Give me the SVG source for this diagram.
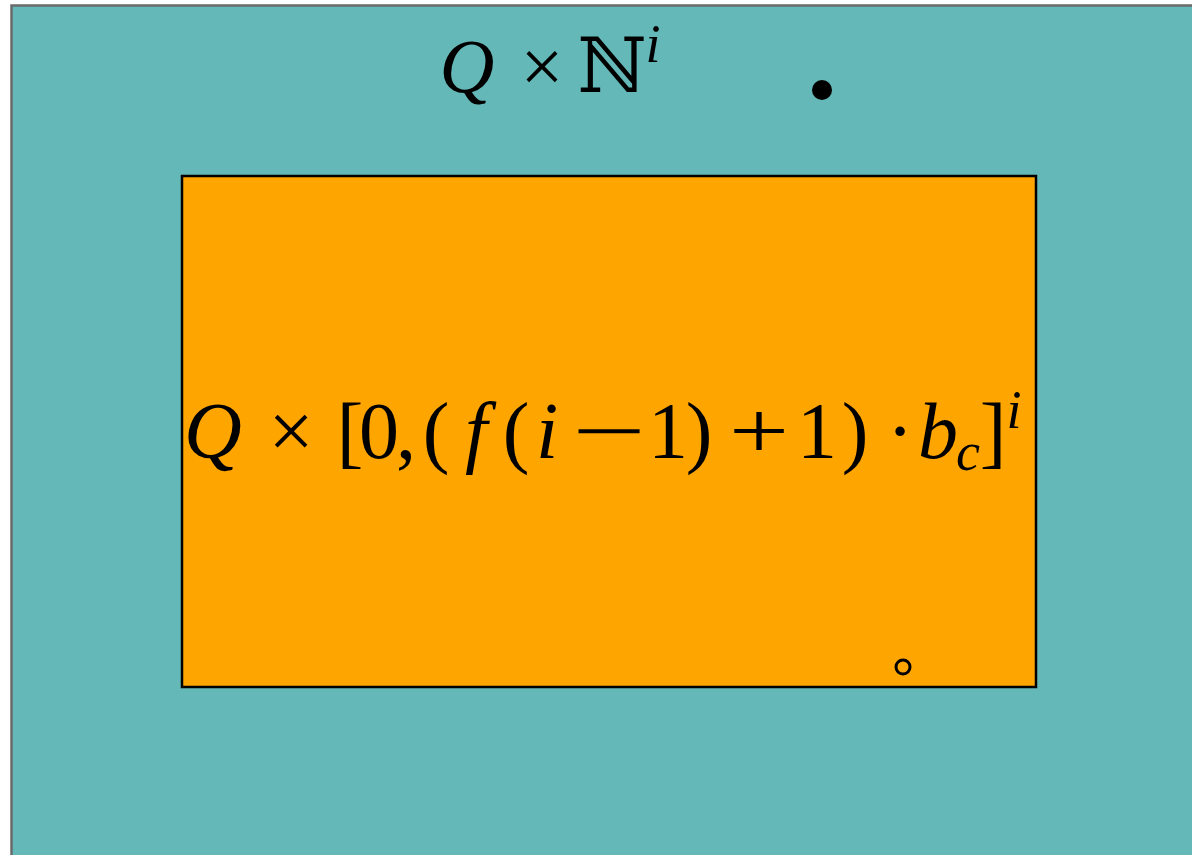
<svg xmlns="http://www.w3.org/2000/svg" width="1192" height="855" viewBox="0 0 1192 855">
<style>
.m{font-family:"Liberation Serif","DejaVu Serif",serif;fill:#000;text-anchor:middle}
.it{font-style:italic}
.big{font-size:80px}
.top{font-size:76px}
.sm{font-size:54px}
</style>
<rect width="1192" height="855" fill="#ffffff"/>
<g id="outer">
<rect x="11.5" y="5.5" width="1190" height="860" fill="#64b8b8" stroke="#6a6a6a" stroke-width="2.5"/>
<text class="m it top" x="467" y="92">Q</text>
<text class="m top" x="542" y="92">×</text>
<text class="m top" x="612" y="92" style="font-family:'DejaVu Serif',serif">ℕ</text>
<text class="m it sm" x="653" y="62">i</text>
</g>
<g id="dot">
<circle cx="822" cy="90" r="10" fill="#000"/>
</g>
<g id="inner">
<rect x="182" y="176" width="854" height="511" fill="#ffa500" stroke="#000" stroke-width="2.5"/>
<text class="m it big" x="213" y="458">Q</text>
<text class="m big" x="291" y="458">×</text>
<text class="m big" x="350" y="458">[</text>
<text class="m big" x="379" y="458">0</text>
<text class="m big" x="406" y="458">,</text>
<text class="m big" x="436" y="458">(</text>
<text class="m it big" x="476" y="458">f</text>
<text class="m big" x="516" y="458">(</text>
<text class="m it big" x="547" y="458">i</text>
<text class="m big" x="609" y="458" textLength="74" lengthAdjust="spacingAndGlyphs">−</text>
<text class="m big" x="668" y="458">1</text>
<text class="m big" x="699" y="458">)</text>
<text class="m big" x="759" y="458" textLength="60" lengthAdjust="spacingAndGlyphs">+</text>
<text class="m big" x="817" y="458">1</text>
<text class="m big" x="855" y="458">)</text>
<text class="m big" x="900" y="458">·</text>
<text class="m it big" x="938" y="458">b</text>
<text class="m it sm" x="968" y="470">c</text>
<text class="m big" x="993" y="458">]</text>
<text class="m it sm" x="1014" y="428">i</text>
</g>
<g id="marker">
<circle cx="903" cy="667" r="7" fill="none" stroke="#000" stroke-width="3"/>
</g>
<g id="connectors"/>
</svg>
